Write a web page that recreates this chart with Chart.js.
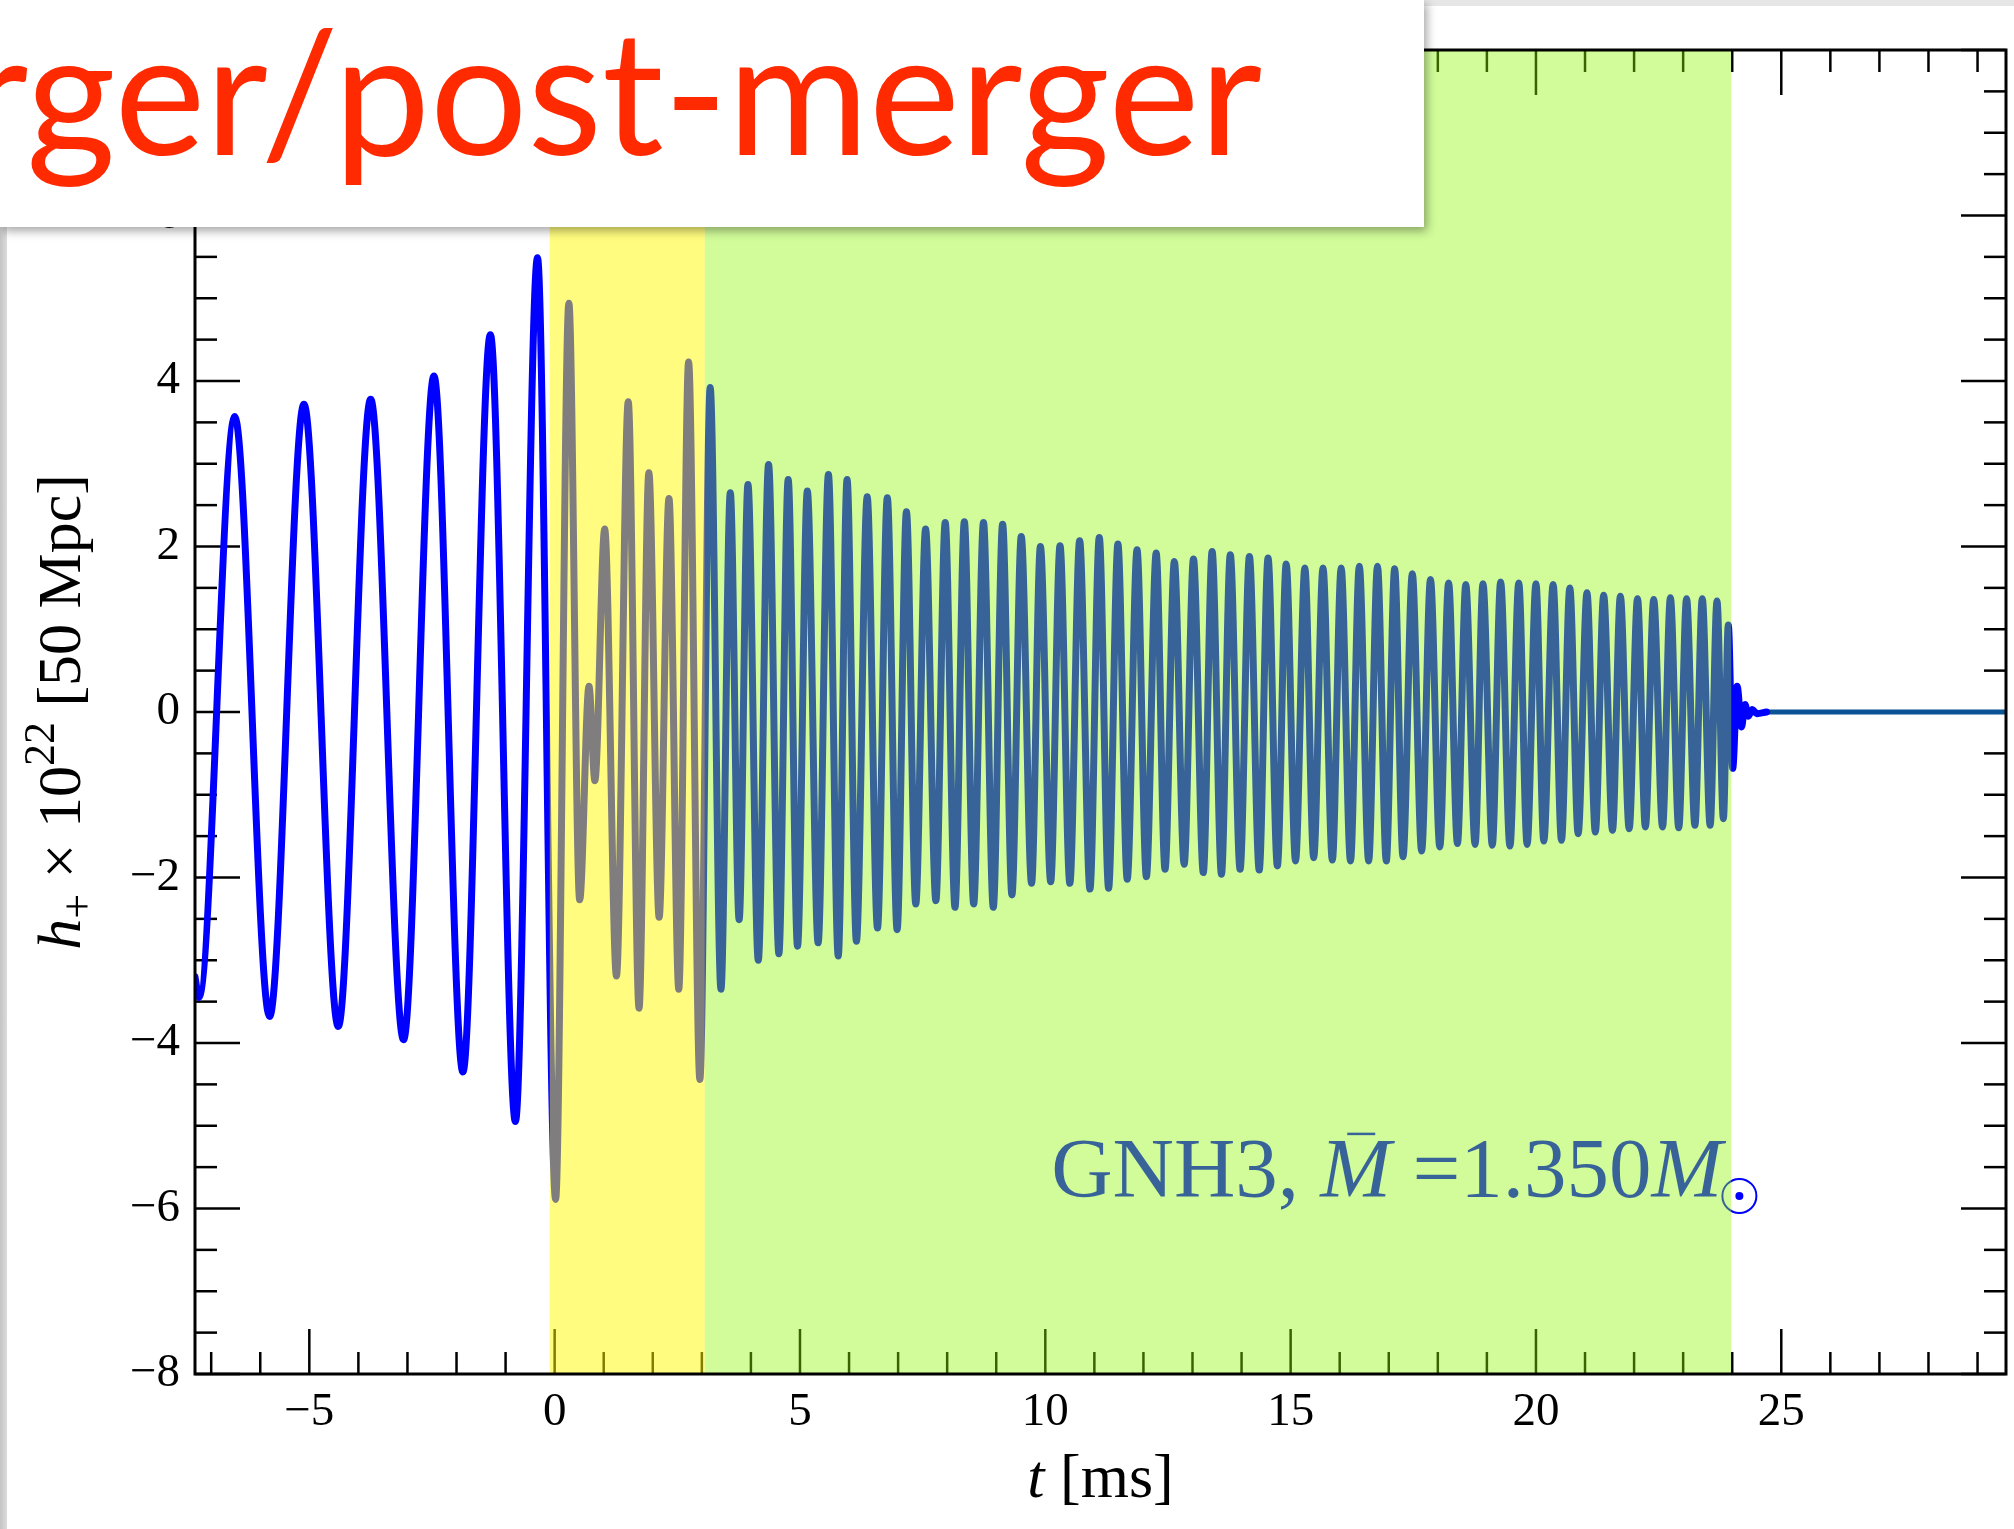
<!DOCTYPE html>
<html>
<head>
<meta charset="utf-8">
<script src="https://cdn.jsdelivr.net/npm/chart.js@4.4.1/dist/chart.umd.min.js"></script>
<style>
html,body{margin:0;padding:0;background:#fff;overflow:hidden}
#wrap{position:relative;width:2014px;height:1529px}
#c{position:absolute;left:0;top:0}
#edgeL{position:absolute;left:0;top:0;width:7px;height:1529px;background:linear-gradient(90deg,#c4c4c4,#dcdcdc)}
#edgeT{position:absolute;left:0;top:0;width:2014px;height:6px;background:#e6e6e6}
#titleBox{position:absolute;left:0;top:0;width:1424px;height:227px;background:#fff;box-shadow:3px 4px 9px rgba(0,0,0,.35);overflow:hidden}
</style>
</head>
<body>
<div id="wrap">
  <canvas id="c" width="2014" height="1529"></canvas>
  <div id="edgeL"></div><div id="edgeT"></div>
  <div id="titleBox">
    <svg width="1424" height="227"><text x="1262" y="155" text-anchor="end" font-family="Lato" font-size="172" fill="#ff2a00">rger/post-merger</text></svg>
  </div>
</div>
<script>
// === DATI ===
// estremi della forma d'onda h+ : tempi [ms] e ampiezze
const tExtrema=[-7.33,-7.25,-6.52,-5.81,-5.11,-4.41,-3.75,-3.08,-2.46,-1.87,-1.31,-0.80,-0.35,
  0.02,0.29,0.51,0.70,0.82,1.02,1.26,1.50,1.72,1.92,2.13,2.33,2.53,2.73,2.96,
  3.17,3.39,3.58,3.76,3.94,4.15,4.36,4.57,4.76,4.95,5.15,5.37,5.58,5.78,5.96,6.15,6.37,6.58,6.78,6.98,
  7.17,7.36,7.56,7.77,7.96,8.16,8.35,8.54,8.74,8.94,9.13,9.32,9.51,9.72,9.90,10.11,10.30,10.50,10.70,10.91,
  11.10,11.29,11.48,11.67,11.87,12.06,12.26,12.44,12.63,12.83,13.02,13.22,13.40,13.59,13.77,13.97,
  14.16,14.36,14.54,14.73,14.91,15.10,15.29,15.47,15.66,15.85,16.03,16.22,16.40,16.59,16.77,16.95,
  17.12,17.29,17.48,17.67,17.85,18.04,18.22,18.40,18.57,18.76,18.92,19.11,19.28,19.47,19.65,19.82,
  20.00,20.16,20.35,20.52,20.69,20.86,21.04,21.21,21.38,21.56,21.72,21.90,22.07,22.23,22.40,22.58,
  22.74,22.91,23.07,23.24,23.39,23.55,23.69,23.82,23.92,24.01,24.10,24.19,24.26,24.33,24.41,24.50,24.70];
const hExtrema=[-3.20,-3.45,3.57,-3.68,3.72,-3.80,3.78,-3.96,4.06,-4.35,4.56,-4.95,5.49,
  -5.89,4.94,-2.27,0.31,-0.83,2.21,-3.19,3.75,-3.58,2.89,-2.48,2.58,-3.35,4.23,-4.44,
  3.92,-3.35,2.65,-2.51,2.75,-3.00,2.99,-2.92,2.81,-2.83,2.67,-2.79,2.87,-2.95,2.81,-2.77,2.60,-2.61,2.59,-2.63,
  2.42,-2.32,2.21,-2.28,2.29,-2.36,2.30,-2.32,2.29,-2.36,2.27,-2.21,2.12,-2.07,2.00,-2.05,2.01,-2.07,2.07,-2.14,
  2.11,-2.13,2.03,-2.02,1.96,-1.99,1.92,-1.90,1.82,-1.84,1.85,-1.94,1.94,-1.96,1.90,-1.90,
  1.88,-1.91,1.86,-1.86,1.79,-1.80,1.74,-1.76,1.74,-1.79,1.74,-1.80,1.76,-1.80,1.76,-1.80,
  1.73,-1.75,1.67,-1.68,1.60,-1.63,1.56,-1.59,1.54,-1.60,1.55,-1.61,1.57,-1.62,1.56,-1.60,
  1.55,-1.56,1.54,-1.55,1.50,-1.47,1.44,-1.45,1.41,-1.43,1.40,-1.41,1.37,-1.39,1.36,-1.39,
  1.38,-1.40,1.37,-1.37,1.37,-1.37,1.34,-1.29,1.05,-0.68,0.31,-0.18,0.09,-0.05,0.03,-0.02,0];
// coda piatta dopo il collasso
const tFlat=[24.70,29.58];
const hFlat=[0,0];
// assi
const xTicks=[-5,0,5,10,15,20,25];
const yTicks=[-8,-6,-4,-2,0,2,4,6,8];
const xMin=-7.33, xMax=29.58, yMin=-8, yMax=8;
// fasi: merger [-0.1,3.06], post-merger [3.06,23.98]
const bandEdges=[-0.1,3.06,23.98];
const bandColors=["rgba(255,250,0,0.5)","rgba(140,247,0,0.4)"];

const SERIF='"Liberation Serif", "DejaVu Serif", serif';
const minus=v=>v<0?"\u2212"+Math.abs(v):String(v);

function pieceW(ctx,pieces){
  let w=0;
  for(const p of pieces){ctx.font=p.font;w+=ctx.measureText(p.text).width;}
  return w;
}
function drawPieces(ctx,pieces,x,y){
  for(const p of pieces){ctx.font=p.font;ctx.fillText(p.text,x,y+(p.dy||0));x+=ctx.measureText(p.text).width;}
  return x;
}
function seg(ctx,x1,y1,x2,y2){ctx.beginPath();ctx.moveTo(x1,y1);ctx.lineTo(x2,y2);ctx.stroke();}

// === PLUGIN: tacche interne, etichetta, fasce, cornice ===
const decor={
  id:"decor",
  beforeDatasetsDraw(ch){
    const {ctx,chartArea:a,scales:{x,y}}=ch;
    ctx.save();
    ctx.strokeStyle="#000";ctx.lineWidth=2.5;
    for(let v=Math.ceil(x.min);v<=x.max;v+=1){
      const px=x.getPixelForValue(v), len=(v%5===0)?45:22;
      seg(ctx,px,a.bottom,px,a.bottom-len);seg(ctx,px,a.top,px,a.top+len);
    }
    for(let v=Math.ceil(y.min*2)/2;v<=y.max;v+=0.5){
      const py=y.getPixelForValue(v), len=(v%2===0)?45:22;
      seg(ctx,a.left,py,a.left+len,py);seg(ctx,a.right,py,a.right-len,py);
    }
    // etichetta modello
    ctx.fillStyle="#0000ff";ctx.strokeStyle="#0000ff";ctx.textBaseline="alphabetic";
    const rom="85px "+SERIF, ita="italic 85px "+SERIF;
    let px=x.getPixelForValue(10.12), py=y.getPixelForValue(-5.86);
    px=drawPieces(ctx,[{text:"GNH3, ",font:rom}],px,py);
    ctx.font=ita;const mw=ctx.measureText("M").width;
    ctx.fillText("M",px,py);
    ctx.lineWidth=2.5;seg(ctx,px+mw*0.38,py-63,px+mw*0.38+28,py-63);
    px+=mw;
    px=drawPieces(ctx,[{text:" =1.350",font:rom},{text:"M",font:ita}],px,py);
    ctx.lineWidth=2;ctx.beginPath();ctx.arc(px+17,py-1,17,0,Math.PI*2);ctx.stroke();
    ctx.beginPath();ctx.arc(px+17,py-1,4,0,Math.PI*2);ctx.fill();
    ctx.restore();
  },
  afterDatasetsDraw(ch){
    const {ctx,chartArea:a,scales:{x}}=ch;
    ctx.save();
    for(let i=0;i<bandColors.length;i++){
      const x1=x.getPixelForValue(bandEdges[i]), x2=x.getPixelForValue(bandEdges[i+1]);
      ctx.fillStyle=bandColors[i];ctx.fillRect(x1,a.top,x2-x1,a.bottom-a.top);
    }
    ctx.restore();
  },
  afterDraw(ch){
    const {ctx,chartArea:a}=ch;
    ctx.save();
    ctx.strokeStyle="#000";ctx.lineWidth=3;
    ctx.strokeRect(a.left,a.top,a.right-a.left,a.bottom-a.top);
    ctx.fillStyle="#000";ctx.textBaseline="alphabetic";
    // titolo asse x
    const xt=[{text:"t",font:"italic 62px "+SERIF},{text:" [ms]",font:"62px "+SERIF}];
    drawPieces(ctx,xt,(a.left+a.right)/2-pieceW(ctx,xt)/2,1497);
    // titolo asse y
    const yt=[{text:"h",font:"italic 62px "+SERIF},{text:"+",font:"44px "+SERIF,dy:12},
      {text:" \u00d7 10",font:"62px "+SERIF},{text:"22",font:"44px "+SERIF,dy:-26},
      {text:" [50 Mpc]",font:"62px "+SERIF}];
    ctx.translate(80,(a.top+a.bottom)/2);ctx.rotate(-Math.PI/2);
    drawPieces(ctx,yt,-pieceW(ctx,yt)/2,0);
    ctx.restore();
  }
};

const ctx=document.getElementById("c");
new Chart(ctx,{
  type:"line",
  data:{datasets:[
    {data:tExtrema.map((t,i)=>({x:t,y:hExtrema[i]})),borderColor:"#0000ff",borderWidth:7,
     cubicInterpolationMode:"monotone",pointRadius:0,borderCapStyle:"round",borderJoinStyle:"round"},
    {data:tFlat.map((t,i)=>({x:t,y:hFlat[i]})),borderColor:"#0b5394",borderWidth:5,pointRadius:0,tension:0}
  ]},
  options:{
    responsive:false,animation:false,
    layout:{padding:{left:0,right:8,top:50,bottom:0}},
    plugins:{legend:{display:false},tooltip:{enabled:false}},
    scales:{
      x:{type:"linear",min:xMin,max:xMax,
        grid:{display:false,drawTicks:false},border:{display:false},
        afterBuildTicks:s=>{s.ticks=xTicks.map(v=>({value:v}));},
        afterFit:s=>{s.height=155;},
        ticks:{padding:10,color:"#000",font:{family:SERIF,size:47},callback:minus,maxRotation:0}},
      y:{type:"linear",min:yMin,max:yMax,
        grid:{display:false,drawTicks:false},border:{display:false},
        afterBuildTicks:s=>{s.ticks=yTicks.map(v=>({value:v}));},
        afterFit:s=>{s.width=195;},
        ticks:{padding:15,color:"#000",font:{family:SERIF,size:47},callback:minus}}
    }
  },
  plugins:[decor]
});
</script>
</body>
</html>
